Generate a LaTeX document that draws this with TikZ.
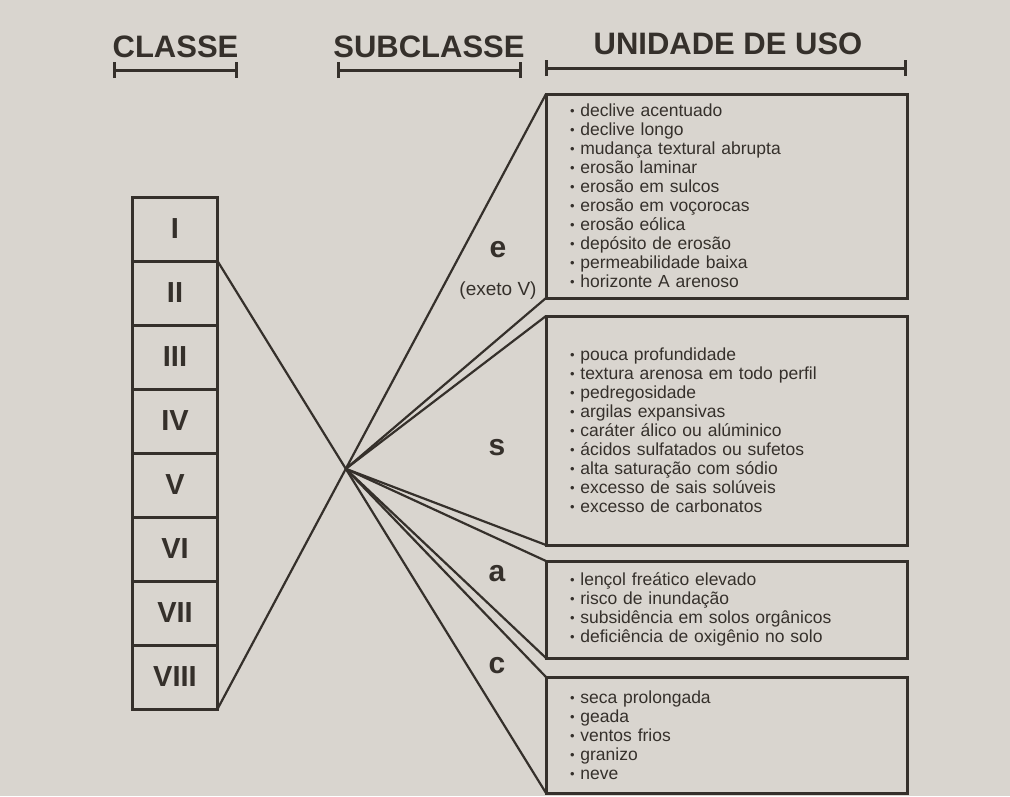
\documentclass[tikz,border=0pt]{standalone}
\usepackage{fontspec}
\setmainfont{Liberation Sans}
\usetikzlibrary{arrows.meta,positioning}
\definecolor{paper}{HTML}{D9D5CF}
\definecolor{ink}{HTML}{35302B}
\tikzset{
  header/.style={
    font=\fontsize{31}{31}\selectfont\bfseries, text=ink, inner sep=0pt
  },
  headbar/.style={
    {Bar[width=16pt]}-{Bar[width=16pt]}, line width=3pt, draw=ink
  },
  classbox/.style={
    rectangle, draw=ink, line width=3pt, outer sep=0pt, inner sep=0pt,
    minimum width=85pt, minimum height=64pt,
    font=\fontsize{29}{29}\selectfont\bfseries, text=ink
  },
  usebox/.style={
    rectangle, draw=ink, line width=3pt, outer sep=0pt,
    inner xsep=24pt, inner ysep=0pt, anchor=north west,
    minimum width=361pt, minimum height=#1, text width=313pt,
    align=left, font=\fontsize{17.5}{19}\selectfont, text=ink
  },
  sublabel/.style={
    font=\fontsize{30}{30}\selectfont\bfseries, text=ink
  },
  link/.style={draw=ink, line width=2.2pt},
}
\newcommand{\itm}{{\fontsize{13}{13}\selectfont\raisebox{1pt}{\textbullet}}\ }

\begin{document}
\begin{tikzpicture}[x=1pt,y=-1pt]
  \useasboundingbox[fill=paper] (0,0) rectangle (1010,796);

  % Headers
  \node[header] (hclass) at (175.5,47) {CLASSE};
  \node[header] (hsub) at (429,47) {SUBCLASSE};
  \node[header] (huse) at (728,44) {UNIDADE DE USO};
  \draw[headbar] (113,70) -- (238,70);
  \draw[headbar] (337,70) -- (522,70);
  \draw[headbar] (545,68) -- (907,68);

  % Classes
  \foreach \r [count=\i] in {I,II,III,IV,V,VI,VII,VIII}
    \node[classbox] (k\i) at (175,165+64*\i) {\r};

  % Units of use
  \node[usebox=204pt] (ebox) at (546,94) {\itm declive acentuado\\
    \itm declive longo\\
    \itm mudança textural abrupta\\
    \itm erosão laminar\\
    \itm erosão em sulcos\\
    \itm erosão em voçorocas\\
    \itm erosão eólica\\
    \itm depósito de erosão\\
    \itm permeabilidade baixa\\
    \itm horizonte A arenoso};
  \node[usebox=229pt] (sbox) at (546,316) {\itm pouca profundidade\\
    \itm textura arenosa em todo perfil\\
    \itm pedregosidade\\
    \itm argilas expansivas\\
    \itm caráter álico ou alúminico\\
    \itm ácidos sulfatados ou sufetos\\
    \itm alta saturação com sódio\\
    \itm excesso de sais solúveis\\
    \itm excesso de carbonatos};
  \node[usebox=97pt] (abox) at (546,561) {\itm lençol freático elevado\\
    \itm risco de inundação\\
    \itm subsidência em solos orgânicos\\
    \itm deficiência de oxigênio no solo};
  \node[usebox=116pt] (cbox) at (546,677) {\itm seca prolongada\\
    \itm geada\\
    \itm ventos frios\\
    \itm granizo\\
    \itm neve};

  % Crossing lines and fan
  \draw[link] (k2.north east) -- (cbox.south west);
  \draw[link] (k8.south east) -- (ebox.north west);
  \coordinate (hub) at (intersection of k2.north east--cbox.south west and k8.south east--ebox.north west);
  \foreach \t in {ebox.south west,sbox.north west,sbox.south west,
                  abox.north west,abox.south west,cbox.north west}
    \draw[link] (hub) -- (\t);

  % Subclasses
  \node[sublabel] (le) at (498,250) {e};
  \node[font=\fontsize{19}{19}\selectfont, text=ink] (lexc) at (498,291) {(exeto V)};
  \node[sublabel] (ls) at (497,448) {s};
  \node[sublabel] (la) at (497,574) {a};
  \node[sublabel] (lc) at (497,666) {c};
\end{tikzpicture}
\end{document}
